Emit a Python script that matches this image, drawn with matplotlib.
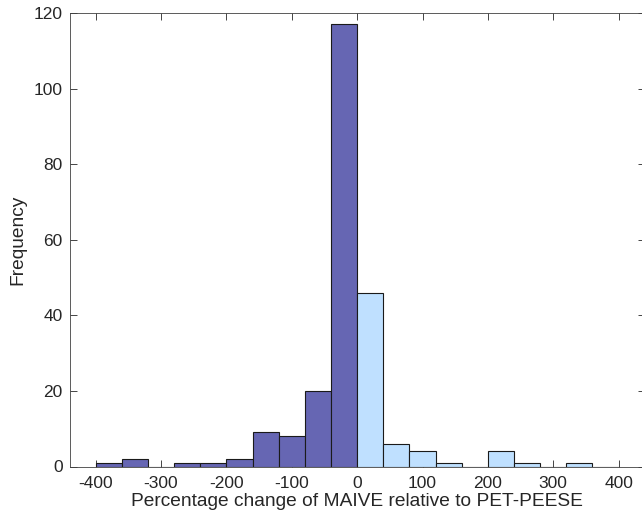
import matplotlib
matplotlib.use("Agg")
import matplotlib.pyplot as plt
import numpy as np

plt.rcParams['font.family'] = ['Liberation Sans', 'DejaVu Sans']
plt.rcParams['axes.unicode_minus'] = False

bin_edges = [-400, -360, -320, -280, -240, -200, -160, -120, -80, -40, 0,
             40, 80, 120, 160, 200, 240, 280, 320, 360, 400]
neg_counts = [1, 2, 0, 1, 1, 2, 9, 8, 20, 117]
pos_counts = [46, 6, 4, 1, 0, 4, 1, 0, 1, 0]
xticks = [-400, -300, -200, -100, 0, 100, 200, 300, 400]
yticks = [0, 20, 40, 60, 80, 100, 120]

fig = plt.figure(figsize=(6.42, 5.21), dpi=100)
ax = fig.add_axes([69.5/642, 1-466.5/521, (644.8-69.5)/642, (466.5-13)/521])

edges = np.array(bin_edges, dtype=float)
lefts = edges[:-1]
widths = np.diff(edges)
nneg = len(neg_counts)
ax.bar(lefts[:nneg], neg_counts, width=widths[:nneg], align='edge',
       color='#6666B3', edgecolor='#1a1a1a', linewidth=0.8, zorder=2)
ax.bar(lefts[nneg:], pos_counts, width=widths[nneg:], align='edge',
       color='#BFE0FF', edgecolor='#1a1a1a', linewidth=0.8, zorder=2)

ax.set_xlim(-440, 440)
ax.set_ylim(0, 120)
ax.set_xticks(xticks)
ax.set_yticks(yticks)
ax.tick_params(direction='in', top=True, right=True, length=5, width=0.6,
               color='#262626', labelsize=12.5, labelcolor='#262626')
ax.tick_params(axis='x', pad=7)
ax.tick_params(axis='y', pad=5)
for s in ax.spines.values():
    s.set_color('#404040')
    s.set_linewidth(0.6)
ax.set_xlabel('Percentage change of MAIVE relative to PET-PEESE', fontsize=13.75,
              color='#262626', labelpad=1)
ax.set_ylabel('Frequency', fontsize=13.75, color='#262626', labelpad=5)

fig.savefig('out.png', dpi=100)
